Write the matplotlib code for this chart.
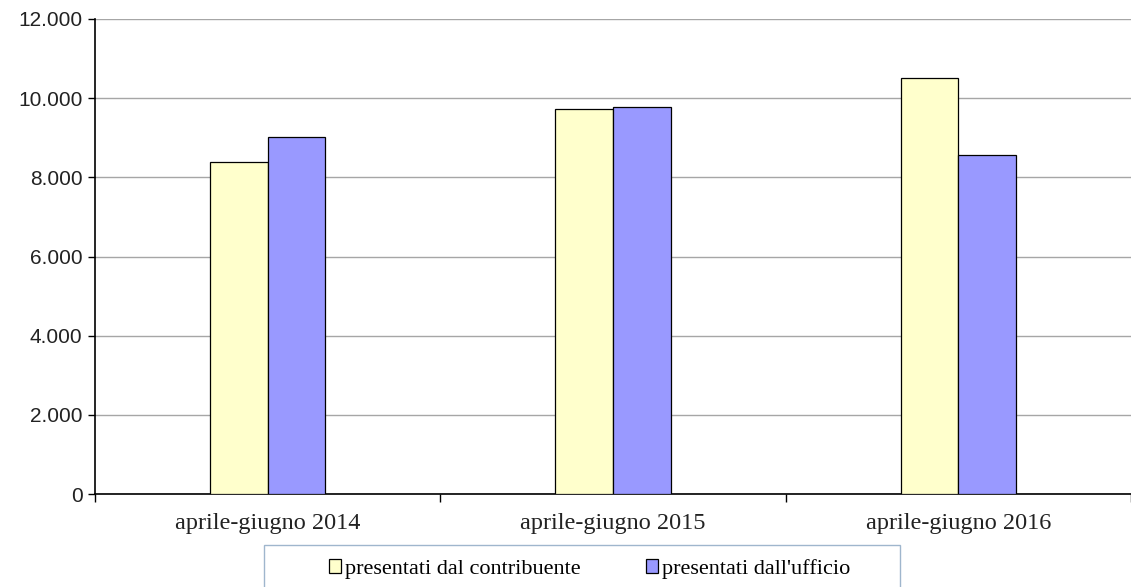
import numpy as np
import matplotlib.pyplot as plt
from matplotlib.patches import Rectangle

# Data
categories = ['aprile-giugno 2014', 'aprile-giugno 2015', 'aprile-giugno 2016']
contribuente = [8390, 9720, 10500]
ufficio = [9020, 9780, 8565]
series_labels = ['presentati dal contribuente', "presentati dall'ufficio"]

W, H = 1131, 587
fig = plt.figure(figsize=(W / 100, H / 100), dpi=100)
ax = fig.add_axes([95 / W, (H - 494) / H, (W - 95) / W, (494 - 19) / H])

x = np.arange(len(categories))
width = 1 / 6
b1 = ax.bar(x - width / 2, contribuente, width, color='#FFFFCC', edgecolor='black', linewidth=0.9,
            label=series_labels[0], zorder=3)
b2 = ax.bar(x + width / 2, ufficio, width, color='#9999FF', edgecolor='black', linewidth=0.9,
            label=series_labels[1], zorder=3)

ax.set_ylim(0, 12000)
ax.set_xlim(-0.5, -0.5 + (W - 95) / 348)
ax.set_yticks(np.arange(0, 12001, 2000))
ax.set_yticklabels(['{:,}'.format(v).replace(',', '.') for v in range(0, 12001, 2000)],
                   fontsize=15, color='#222222', family='Liberation Sans')
ax.yaxis.grid(True, color='#a6a6a6', linewidth=1, zorder=0)

# category labels between boundary ticks
ax.set_xticks([-0.5, 0.5, 1.5, 2.5])
ax.set_xticklabels([])
ax.set_xticks(x, minor=True)
ax.set_xticklabels(categories, minor=True, fontsize=17.5, family='Liberation Serif', color='#222222')
ax.tick_params(axis='x', which='minor', length=0, pad=14)
ax.tick_params(axis='x', which='major', length=6, width=1)
ax.tick_params(axis='y', length=5, width=1, pad=4)

for s in ['top', 'right']:
    ax.spines[s].set_visible(False)
for s in ['left', 'bottom']:
    ax.spines[s].set_linewidth(1.2)

# legend
fig.patches.append(Rectangle((264 / W, -0.05), (900 - 264) / W, (H - 545) / H + 0.05,
                             transform=fig.transFigure, facecolor='white',
                             edgecolor='#9fb6cd', linewidth=1))
fig.legend(handles=[b1, b2], labels=series_labels, loc='center left',
           bbox_to_anchor=(329 / W, 1 - 569 / H), ncol=2, frameon=False,
           prop={'family': 'Liberation Serif', 'size': 16},
           handlelength=0.55, handleheight=0.55, handletextpad=0.15,
           columnspacing=2.97, borderpad=0, borderaxespad=0)

fig.savefig('out.png', dpi=100)
plt.close()
